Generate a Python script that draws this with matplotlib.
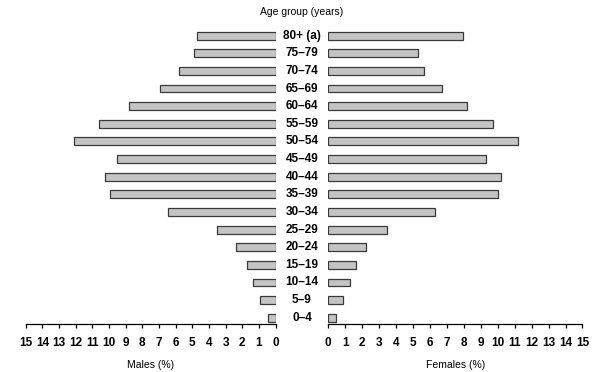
import matplotlib.pyplot as plt

AGE_GROUPS = ['0–4', '5–9', '10–14', '15–19', '20–24', '25–29', '30–34', '35–39',
              '40–44', '45–49', '50–54', '55–59', '60–64', '65–69', '70–74', '75–79', '80+ (a)']
MALES = [0.44, 0.92, 1.34, 1.74, 2.36, 3.50, 6.44, 9.96, 10.24, 9.50, 12.08,
         10.58, 8.80, 6.92, 5.82, 4.90, 4.70]
FEMALES = [0.44, 0.87, 1.28, 1.64, 2.24, 3.45, 6.32, 10.02, 10.20, 9.33, 11.19,
           9.73, 8.21, 6.70, 5.63, 5.28, 7.97]
TICKS = list(range(0, 16))

FONT = 'Liberation Sans'
BAR_FILL = '#c4c4c4'
BAR_EDGE = '#3a3a3a'

fig = plt.figure(figsize=(5.98, 3.72), dpi=100)
ax_m = fig.add_axes([0.043, 0.128, 0.418, 0.8])
ax_f = fig.add_axes([0.549, 0.128, 0.425, 0.8])

pos = list(range(len(AGE_GROUPS)))

for ax, vals in ((ax_m, MALES), (ax_f, FEMALES)):
	ax.barh(pos, vals, height=0.45, color=BAR_FILL, edgecolor=BAR_EDGE, linewidth=0.9)
	ax.set_xlim(0, 15)
	ax.set_ylim(-0.375, 16.5)
	ax.set_yticks([])
	for s in ('top', 'right', 'left'):
		ax.spines[s].set_visible(False)
	ax.spines['bottom'].set_linewidth(0.9)
	ax.set_xticks(TICKS)
	ax.set_xticklabels([str(t) for t in TICKS], fontfamily=FONT, fontweight='bold', fontsize=8.5)
	ax.tick_params(axis='x', direction='out', length=3, width=0.9, pad=6)

ax_m.invert_xaxis()

ax_m.set_xlabel('Males (%)', fontfamily=FONT, fontsize=7.5, labelpad=8)
ax_f.set_xlabel('Females (%)', fontfamily=FONT, fontsize=7.5, labelpad=8)

# age labels in the gap between the two halves
for p, label in zip(pos, AGE_GROUPS):
	y = ax_m.transData.transform((0, p))[1]
	fig.text(302 / 598, y / fig.dpi / 3.72, label, ha='center', va='center',
	         fontfamily=FONT, fontweight='bold', fontsize=8.5)

fig.text(302 / 598, 1 - 12 / 372, 'Age group (years)', ha='center', va='center',
         fontfamily=FONT, fontsize=7.5)

fig.savefig('out.png', dpi=100)
